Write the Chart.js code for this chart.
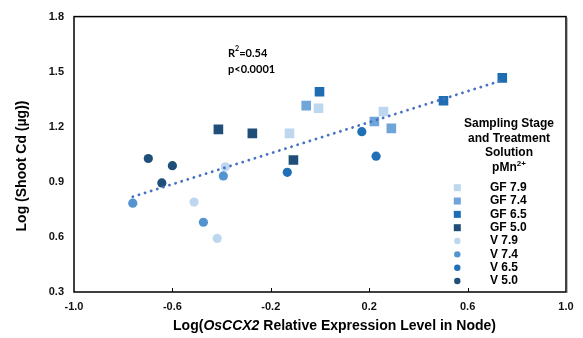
<!DOCTYPE html>
<html lang="en">
<head>
<meta charset="UTF-8">
<title>Shoot Cd vs OsCCX2 expression</title>
<script src="https://cdn.jsdelivr.net/npm/chart.js"></script>
<style>
    html, body { margin: 0; padding: 0; background: #fff; }
    #wrap { width: 583px; height: 338px; position: relative; }
</style>
</head>
<body>
<div id="wrap"><canvas id="chart"></canvas></div>
<script>
// series: [x = log expression, y = log shoot Cd]
const gf79 = [[-0.124, 1.164], [-0.006, 1.301], [0.258, 1.283]];
const gf74 = [[-0.056, 1.315], [0.221, 1.229], [0.290, 1.191]];
const gf65 = [[-0.002, 1.391], [0.502, 1.342], [0.741, 1.466]];
const gf50 = [[-0.413, 1.186], [-0.275, 1.164], [-0.108, 1.019]];
const v79 = [[-0.512, 0.790], [-0.418, 0.592], [-0.385, 0.982]];
const v74 = [[-0.761, 0.784], [-0.474, 0.680], [-0.393, 0.932]];
const v65 = [[-0.133, 0.952], [0.170, 1.173], [0.228, 1.040]];
const v50 = [[-0.698, 1.027], [-0.643, 0.894], [-0.600, 0.988]];
const trend = [[-0.761, 0.819], [0.741, 1.453]];

const seriesNames = ['GF 7.9', 'GF 7.4', 'GF 6.5', 'GF 5.0', 'V 7.9', 'V 7.4', 'V 6.5', 'V 5.0'];
const seriesData = [gf79, gf74, gf65, gf50, v79, v74, v65, v50];
const seriesColors = ['#bdd7ee', '#6fa5d8', '#1e6db2', '#1f4e79', '#bdd7ee', '#5393cf', '#1f70b6', '#1f4e79'];
const xTicks = [-1.0, -0.6, -0.2, 0.2, 0.6, 1.0];
const yTicks = [0.3, 0.6, 0.9, 1.2, 1.5, 1.8];

const toPts = arr => arr.map(p => ({ x: p[0], y: p[1] }));
const FONT = '"Liberation Sans", Arial, sans-serif';

let datasets = seriesNames.map((name, i) => {
    let square = name.startsWith('GF');
    return {
        label: name,
        data: toPts(seriesData[i]),
        pointStyle: square ? 'rect' : 'circle',
        pointRadius: square ? 6.8 : 4.6,
        pointHoverRadius: square ? 6.8 : 4.6,
        pointBackgroundColor: seriesColors[i],
        pointBorderWidth: 0,
        showLine: false
    };
});
datasets.push({
    label: 'trend',
    type: 'line',
    data: toPts(trend),
    borderColor: '#4472c4',
    borderWidth: 2.8,
    borderDash: [0.1, 6.3],
    borderCapStyle: 'round',
    pointRadius: 0,
    fill: false,
    order: -1
});

// superscript helper, returns end x
function drawSup(ctx, base, sup, x, y, size, align) {
    ctx.font = 'bold ' + size + 'px ' + FONT;
    let w1 = ctx.measureText(base).width;
    ctx.font = 'bold ' + Math.round(size * 0.65) + 'px ' + FONT;
    let w2 = ctx.measureText(sup).width;
    let start = align === 'center' ? x - (w1 + w2) / 2 : x;
    ctx.textAlign = 'left';
    ctx.font = 'bold ' + size + 'px ' + FONT;
    ctx.fillText(base, start, y);
    ctx.font = 'bold ' + Math.round(size * 0.65) + 'px ' + FONT;
    ctx.fillText(sup, start + w1, y - size * 0.38);
    return start + w1 + w2;
}

const decor = {
    id: 'decor',
    beforeDatasetsDraw(chart) {
        const { ctx, chartArea: a, scales } = chart;
        ctx.save();
        // right-side soft shadow then box
        ctx.strokeStyle = '#bbbbbb';
        ctx.lineWidth = 1;
        ctx.beginPath();
        ctx.moveTo(a.right + 1.5, a.top + 1);
        ctx.lineTo(a.right + 1.5, a.bottom + 1);
        ctx.stroke();
        ctx.strokeStyle = '#000';
        ctx.lineWidth = 1.5;
        ctx.strokeRect(a.left, a.top, a.right - a.left, a.bottom - a.top);
        // inner tick marks on x axis
        ctx.lineWidth = 1;
        xTicks.slice(1, -1).forEach(v => {
            let px = Math.round(scales.x.getPixelForValue(v)) + 0.5;
            ctx.beginPath();
            ctx.moveTo(px, a.bottom);
            ctx.lineTo(px, a.bottom - 4);
            ctx.stroke();
        });
        ctx.restore();
    },
    afterDraw(chart) {
        const { ctx, chartArea: a } = chart;
        ctx.save();
        ctx.fillStyle = '#000';
        ctx.textBaseline = 'middle';

        // annotation
        let ax = 228;
        ctx.font = 'bold 11px Lato, "Open Sans", sans-serif';
        ctx.textAlign = 'left';
        ctx.fillText('R', ax, 53);
        let rw = ctx.measureText('R').width;
        ctx.font = 'bold 7px Lato, "Open Sans", sans-serif';
        ctx.fillText('2', ax + rw, 49);
        let sw = ctx.measureText('2').width;
        ctx.font = 'bold 11px Lato, "Open Sans", sans-serif';
        ctx.fillText('=0.54', ax + rw + sw, 53);
        ctx.fillText('p<0.0001', ax, 69);

        // legend title
        let lx = 509;
        ctx.font = 'bold 12px ' + FONT;
        ctx.textAlign = 'center';
        ctx.fillText('Sampling Stage', lx, 124);
        ctx.fillText('and Treatment', lx, 139);
        ctx.fillText('Solution', lx, 153);
        drawSup(ctx, 'pMn', '2+', lx, 168, 12, 'center');

        // legend entries
        seriesNames.forEach((name, i) => {
            let y = 187.7 + i * 13.33;
            ctx.fillStyle = seriesColors[i];
            if (name.startsWith('GF')) {
                ctx.fillRect(453.8, y - 3.5, 7, 7);
            } else {
                ctx.beginPath();
                ctx.arc(457.3, y, 3.2, 0, Math.PI * 2);
                ctx.fill();
            }
            ctx.fillStyle = '#000';
            ctx.font = 'bold 12px ' + FONT;
            ctx.textAlign = 'left';
            ctx.fillText(name, 490, y);
        });

        // y axis title
        ctx.save();
        ctx.translate(22, 166);
        ctx.rotate(-Math.PI / 2);
        ctx.textAlign = 'center';
        ctx.font = 'bold 14px ' + FONT;
        ctx.fillText('Log (Shoot Cd (\u00b5g))', 0, 0);
        ctx.restore();

        // x axis title with italic gene name
        let parts = [['Log(', 'bold'], ['OsCCX2', 'italic bold'], [' Relative Expression Level in Node)', 'bold']];
        let total = 0;
        parts.forEach(p => { ctx.font = p[1] + ' 14px ' + FONT; total += ctx.measureText(p[0]).width; });
        let x = 334.5 - total / 2;
        ctx.textAlign = 'left';
        parts.forEach(p => {
            ctx.font = p[1] + ' 14px ' + FONT;
            ctx.fillText(p[0], x, 326);
            x += ctx.measureText(p[0]).width;
        });
        ctx.restore();
    }
};

new Chart(document.getElementById('chart'), {
    type: 'scatter',
    data: { datasets: datasets },
    options: {
        responsive: true,
        maintainAspectRatio: false,
        animation: false,
        layout: { padding: { top: 14, right: 17, left: 0, bottom: 0 } },
        plugins: { legend: { display: false }, tooltip: { enabled: false } },
        scales: {
            x: {
                type: 'linear',
                min: -1, max: 1,
                afterBuildTicks: s => { s.ticks = xTicks.map(v => ({ value: v })); },
                afterFit: s => { s.height = 46; },
                grid: { display: false, drawTicks: false },
                border: { display: false },
                ticks: {
                    padding: 8,
                    color: '#111',
                    font: { family: FONT, size: 11, weight: 'bold' },
                    callback: v => v.toFixed(1)
                }
            },
            y: {
                type: 'linear',
                min: 0.3, max: 1.8,
                afterBuildTicks: s => { s.ticks = yTicks.map(v => ({ value: v })); },
                afterFit: s => { s.width = 74; },
                grid: { display: false, drawTicks: false },
                border: { display: false },
                ticks: {
                    padding: 10,
                    color: '#111',
                    font: { family: FONT, size: 11, weight: 'bold' },
                    callback: v => v.toFixed(1)
                }
            }
        }
    },
    plugins: [decor]
});
</script>
</body>
</html>
